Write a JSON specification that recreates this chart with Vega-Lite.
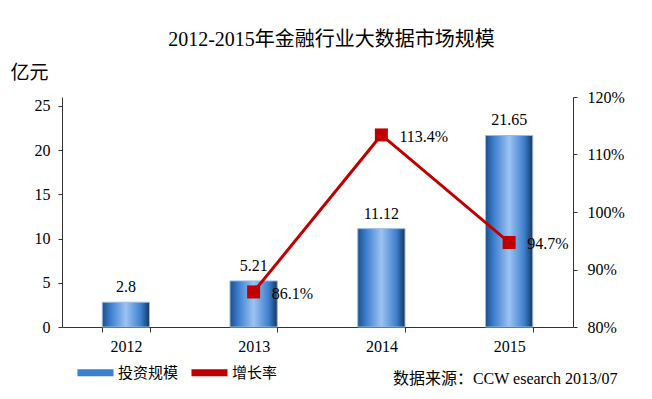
{
  "$schema": "https://vega.github.io/schema/vega-lite/v6.json",
  "width": 511,
  "height": 230,
  "autosize": "none",
  "padding": {"left": 62, "top": 97, "right": 79, "bottom": 72},
  "background": "white",
  "title": {
    "text": "2012-2015年金融行业大数据市场规模",
    "font": "Liberation Serif, Noto Sans CJK SC",
    "fontSize": 20,
    "fontWeight": "normal",
    "color": "#000000",
    "anchor": "middle",
    "dx": 14,
    "offset": 13
  },
  "config": {
    "view": {"stroke": null},
    "font": "Liberation Serif, Noto Sans CJK SC",
    "axis": {"domainColor": "#333", "tickColor": "#333", "grid": false}
  },
  "data": {
    "values": [
      {"year": "2012", "invest": 2.8, "growth": null, "series": "增长率"},
      {"year": "2013", "invest": 5.21, "growth": 0.861, "series": "增长率"},
      {"year": "2014", "invest": 11.12, "growth": 1.134, "series": "增长率"},
      {"year": "2015", "invest": 21.65, "growth": 0.947, "series": "增长率"}
    ]
  },
  "encoding": {
    "x": {
      "field": "year",
      "type": "nominal",
      "scale": {"paddingInner": 0.63, "paddingOuter": 0.315},
      "axis": {
        "labelAngle": 0,
        "labelPadding": 6,
        "labelFont": "Liberation Serif",
        "labelFontSize": 16,
        "labelColor": "#000",
        "tickBand": "extent",
        "tickSize": 5,
        "title": "数据来源：CCW esearch 2013/07",
        "titleFont": "Liberation Serif, Noto Sans CJK SC",
        "titleFontSize": 16,
        "titleFontWeight": "normal",
        "titleColor": "#000",
        "titleAnchor": "end",
        "titleAlign": "right",
        "titleBaseline": "middle",
        "titleX": 555,
        "titleY": 51
      }
    }
  },
  "layer": [
    {
      "layer": [
        {
          "mark": {
            "type": "bar",
            "stroke": "#9dbbe0",
            "strokeWidth": 1,
            "color": {
              "gradient": "linear",
              "x1": 0, "x2": 1, "y1": 0, "y2": 0,
              "stops": [
                {"offset": 0, "color": "#1c4f8c"},
                {"offset": 0.18, "color": "#3d7fcf"},
                {"offset": 0.5, "color": "#9cc3f2"},
                {"offset": 0.82, "color": "#3d7fcf"},
                {"offset": 1, "color": "#15375f"}
              ]
            }
          },
          "encoding": {
            "y": {
              "field": "invest",
              "type": "quantitative",
              "scale": {"domain": [0, 25]},
              "axis": {
                "values": [0, 5, 10, 15, 20, 25],
                "tickSize": 4,
                "labelPadding": 8,
                "labelFont": "Liberation Serif",
                "labelFontSize": 16,
                "labelColor": "#000",
                "title": "亿元",
                "titleFont": "Noto Sans CJK SC",
                "titleFontSize": 19,
                "titleFontWeight": "normal",
                "titleColor": "#000",
                "titleAngle": 0,
                "titleAlign": "left",
                "titleBaseline": "middle",
                "titleX": -52,
                "titleY": -25
              }
            }
          }
        },
        {
          "mark": {"type": "text", "baseline": "bottom", "dy": -7, "fontSize": 16, "font": "Liberation Serif", "color": "#000"},
          "encoding": {
            "y": {"field": "invest", "type": "quantitative"},
            "text": {"field": "invest", "type": "quantitative"}
          }
        }
      ]
    },
    {
      "transform": [{"filter": "datum.growth != null"}],
      "layer": [
        {
          "mark": {"type": "line", "strokeWidth": 3, "point": {"shape": "square", "size": 170, "filled": true, "opacity": 1}},
          "encoding": {
            "y": {
              "field": "growth",
              "type": "quantitative",
              "scale": {"domain": [0.8, 1.2]},
              "axis": {
                "orient": "right",
                "format": ".0%",
                "values": [0.8, 0.9, 1.0, 1.1, 1.2],
                "tickSize": 4,
                "labelPadding": 10,
                "labelFont": "Liberation Serif",
                "labelFontSize": 16,
                "labelColor": "#000",
                "title": null
              }
            },
            "color": {
              "field": "series",
              "type": "nominal",
              "scale": {"domain": ["投资规模", "增长率"], "range": ["#3d7fcf", "#c00000"]},
              "legend": {
                "title": null,
                "orient": "none",
                "direction": "horizontal",
                "legendX": 15,
                "legendY": 257,
                "labelFont": "Noto Sans CJK SC",
                "labelFontSize": 15,
                "labelColor": "#000",
                "symbolType": "M-1,-0.2H1V0.2H-1Z",
                "symbolSize": 1300,
                "symbolStrokeWidth": 0,
                "columnPadding": 12,
                "labelOffset": 4
              }
            }
          }
        },
        {
          "mark": {"type": "text", "align": "left", "baseline": "middle", "dx": 18, "dy": 2, "fontSize": 16, "font": "Liberation Serif", "color": "#000"},
          "encoding": {
            "y": {"field": "growth", "type": "quantitative"},
            "text": {"field": "growth", "type": "quantitative", "format": ".1%"}
          }
        }
      ]
    }
  ],
  "resolve": {"scale": {"y": "independent"}}
}
